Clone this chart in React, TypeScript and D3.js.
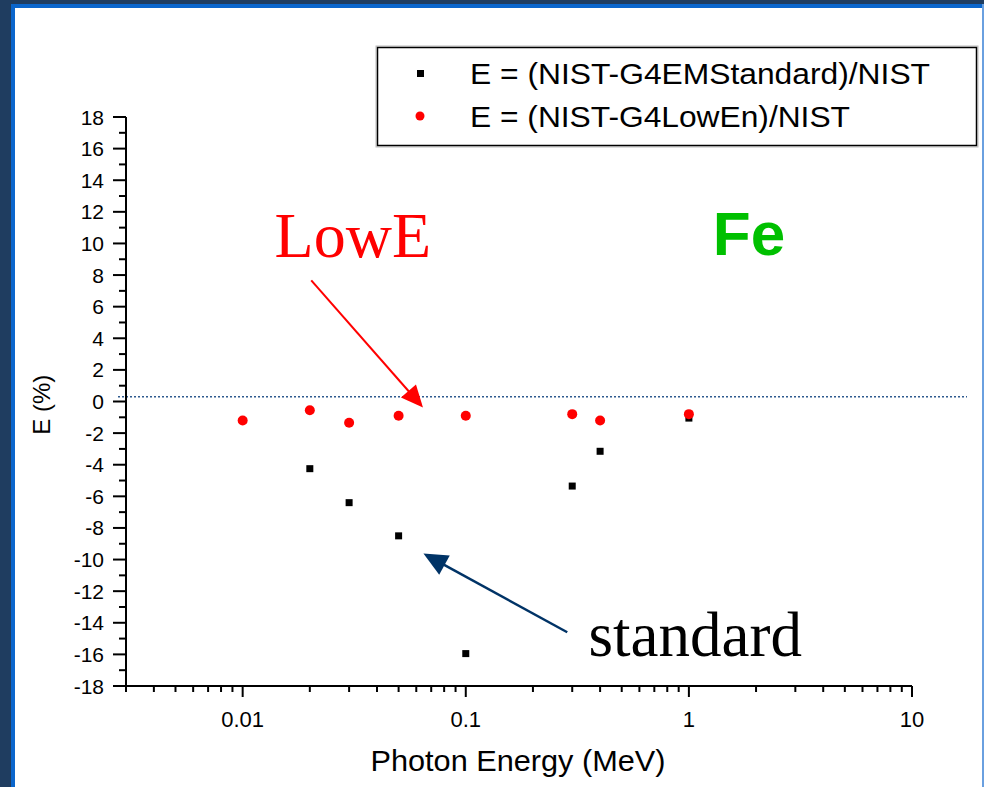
import React from "react";
import * as d3 from "d3";

const energies = [0.01, 0.02, 0.03, 0.05, 0.1, 0.3, 0.4, 1];
const standardValues = [-1.2, -4.25, -6.4, -8.5, -15.95, -5.35, -3.15, -1.05];
const lowEnValues = [-1.2, -0.55, -1.35, -0.9, -0.9, -0.8, -1.2, -0.8];
const xTickLabels = ["0.01", "0.1", "1", "10"];
const yTicks = [-18, -16, -14, -12, -10, -8, -6, -4, -2, 0, 2, 4, 6, 8, 10, 12, 14, 16, 18];
const legendLabels = ["E = (NIST-G4EMStandard)/NIST", "E = (NIST-G4LowEn)/NIST"];
const refLineValue = 0.3;

const W = 984;
const H = 787;

function arrowHead(x1: number, y1: number, x2: number, y2: number, len: number, half: number) {
  const a = Math.atan2(y2 - y1, x2 - x1);
  const bx = x2 - len * Math.cos(a);
  const by = y2 - len * Math.sin(a);
  const px = -Math.sin(a) * half;
  const py = Math.cos(a) * half;
  return `${x2},${y2} ${bx + px},${by + py} ${bx - px},${by - py}`;
}

export default function App() {
  const x = d3.scaleLog().domain([0.003, 10]).range([126, 912]);
  const y = d3.scaleLinear().domain([-18, 18]).range([686, 117]);

  const majorX = xTickLabels.map((t) => +t);
  const minorX: number[] = [];
  for (let p = -3; p <= 0; p++) {
    for (let m = 2; m <= 9; m++) {
      const v = m * Math.pow(10, p);
      if (v >= 0.003 && v <= 10) minorX.push(v);
    }
  }
  const minorY: number[] = [];
  for (let v = -17; v <= 17; v += 2) minorY.push(v);

  const sans = "'Liberation Sans', Arial, sans-serif";
  const serif = "'Liberation Serif', 'Times New Roman', serif";

  const redStart = [x(0.0203), y(7.66)];
  const redTip = [x(0.0643), y(-0.38)];
  const blueStart = [x(0.285), y(-14.6)];
  const blueTip = [x(0.0646), y(-9.62)];
  const redA = Math.atan2(redTip[1] - redStart[1], redTip[0] - redStart[0]);
  const redLineEnd = [redTip[0] - 18 * Math.cos(redA), redTip[1] - 18 * Math.sin(redA)];
  const blueA = Math.atan2(blueTip[1] - blueStart[1], blueTip[0] - blueStart[0]);
  const blueLineEnd = [blueTip[0] - 20 * Math.cos(blueA), blueTip[1] - 20 * Math.sin(blueA)];

  return (
    <div style={{ position: "absolute", left: 0, top: 0 }}>
      <svg width={W} height={H} style={{ display: "block" }}>
        <rect x={0} y={0} width={W} height={H} fill="#1f3d60" />
        <rect x={11} y={4} width={W - 11} height={H - 4} fill="#0b66cc" />
        <rect x={982} y={4} width={2} height={H - 4} fill="#6aa0e0" />
        <rect x={15} y={8} width={967} height={H - 8} fill="#ffffff" />

        <line
          x1={118}
          x2={967}
          y1={y(refLineValue)}
          y2={y(refLineValue)}
          stroke="#2f5b8f"
          strokeWidth={1.5}
          strokeDasharray="2,2"
        />

        <line x1={126} x2={126} y1={y(18)} y2={y(-18) + 1} stroke="#000" strokeWidth={2} />
        <line x1={125} x2={x(10)} y1={y(-18)} y2={y(-18)} stroke="#000" strokeWidth={2} />

        {yTicks.map((t) => (
          <g key={"yt" + t}>
            <line x1={113} x2={126} y1={y(t)} y2={y(t)} stroke="#000" strokeWidth={2} />
            <text x={104} y={y(t) + 7.5} textAnchor="end" fontFamily={sans} fontSize={21} fill="#000">
              {t}
            </text>
          </g>
        ))}
        {minorY.map((t) => (
          <line key={"ym" + t} x1={119} x2={126} y1={y(t)} y2={y(t)} stroke="#000" strokeWidth={2} />
        ))}

        {majorX.map((t, i) => (
          <g key={"xt" + t}>
            <line x1={x(t)} x2={x(t)} y1={y(-18)} y2={y(-18) + 11} stroke="#000" strokeWidth={2} />
            <text x={x(t)} y={727} textAnchor="middle" fontFamily={sans} fontSize={22} fill="#000">
              {xTickLabels[i]}
            </text>
          </g>
        ))}
        {minorX.map((t) => (
          <line key={"xm" + t} x1={x(t)} x2={x(t)} y1={y(-18)} y2={y(-18) + 6} stroke="#000" strokeWidth={2} />
        ))}

        <text x={518} y={771} textAnchor="middle" fontFamily={sans} fontSize={30} fill="#000" textLength={295} lengthAdjust="spacingAndGlyphs">
          Photon Energy (MeV)
        </text>
        <text
          transform={`translate(50, ${y(-0.2)}) rotate(-90)`}
          textAnchor="middle"
          fontFamily={sans}
          fontSize={24}
          fill="#000"
        >
          E (%)
        </text>

        {energies.map((e, i) => (
          <rect
            key={"s" + e}
            x={x(e) - 3.5}
            y={y(standardValues[i]) - 3.5}
            width={7}
            height={7}
            fill="#000"
          />
        ))}
        {energies.map((e, i) => (
          <circle key={"c" + e} cx={x(e)} cy={y(lowEnValues[i])} r={5} fill="#ff0000" />
        ))}

        <rect x={376} y={46} width={602} height={101} fill="none" stroke="#bbb" strokeWidth={1} />
        <rect x={377.5} y={47.5} width={599} height={98} fill="#fff" stroke="#000" strokeWidth={1.5} />
        <rect x={417} y={70} width={7} height={7} fill="#000" />
        <circle cx={420} cy={116} r={4.5} fill="#ff0000" />
        <text x={470} y={84} fontFamily={sans} fontSize={30} fill="#000" textLength={460} lengthAdjust="spacingAndGlyphs">
          {legendLabels[0]}
        </text>
        <text x={470} y={127} fontFamily={sans} fontSize={30} fill="#000" textLength={380} lengthAdjust="spacingAndGlyphs">
          {legendLabels[1]}
        </text>

        <text x={x(0.0139)} y={y(9.16)} fontFamily={serif} fontSize={64} fill="#ff0000">
          LowE
        </text>
        <line x1={redStart[0]} y1={redStart[1]} x2={redLineEnd[0]} y2={redLineEnd[1]} stroke="#ff0000" strokeWidth={2} />
        <polygon points={arrowHead(redStart[0], redStart[1], redTip[0], redTip[1], 22, 10)} fill="#ff0000" />

        <text x={x(1.28)} y={y(9.3)} fontFamily={sans} fontWeight="bold" fontSize={62} fill="#00c000">
          Fe
        </text>

        <text x={x(0.355)} y={y(-16.08)} fontFamily={serif} fontSize={63} fill="#000">
          standard
        </text>
        <line x1={blueStart[0]} y1={blueStart[1]} x2={blueLineEnd[0]} y2={blueLineEnd[1]} stroke="#003366" strokeWidth={2.5} />
        <polygon points={arrowHead(blueStart[0], blueStart[1], blueTip[0], blueTip[1], 24, 11)} fill="#003366" />
      </svg>
    </div>
  );
}
